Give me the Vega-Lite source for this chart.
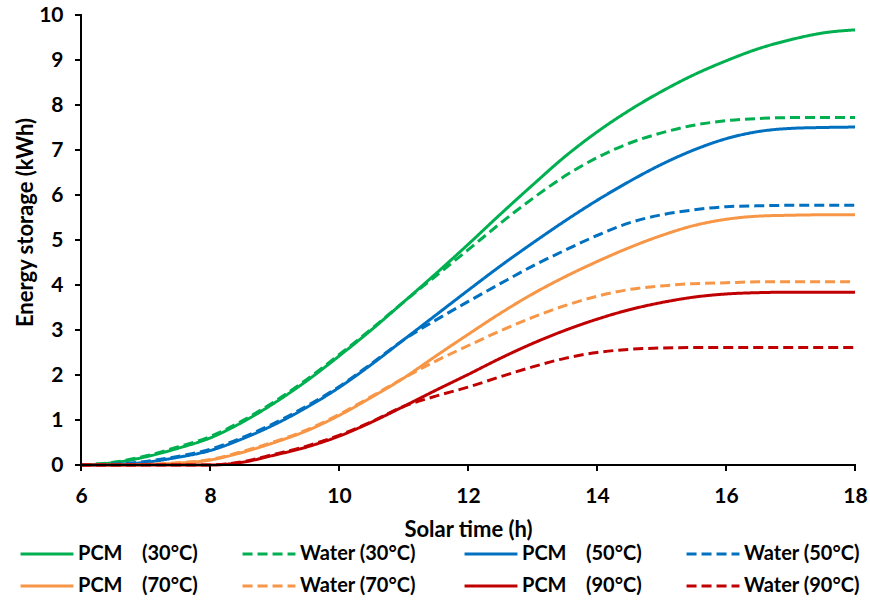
{
  "$schema": "https://vega.github.io/schema/vega-lite/v6.json",
  "width": 774,
  "height": 450,
  "autosize": {"type": "none"},
  "padding": {"left": 81, "top": 15, "right": 15, "bottom": 138},
  "background": "white",
  "config": {
    "view": {"stroke": null},
    "font": "Lato",
    "axis": {
      "grid": false, "domain": false, "ticks": false,
      "labelColor": "#000000", "labelFont": "Lato", "labelFontWeight": "bold", "labelFontSize": 21,
      "titleColor": "#000000", "titleFont": "Lato", "titleFontWeight": "bold", "titleFontSize": 22
    }
  },
  "layer": [
    {
      "data": {
        "values": [
          {"t": 6, "p30": 0, "w30": 0, "p50": 0, "w50": 0, "p70": 0, "w70": 0, "p90": 0, "w90": 0},
          {"t": 6.5, "p30": 0.05, "w30": 0.06, "p50": 0.01, "w50": 0.02, "p70": 0, "w70": 0, "p90": 0, "w90": 0},
          {"t": 7, "p30": 0.18, "w30": 0.2, "p50": 0.06, "w50": 0.08, "p70": 0.01, "w70": 0.01, "p90": 0, "w90": 0},
          {"t": 7.5, "p30": 0.37, "w30": 0.4, "p50": 0.17, "w50": 0.19, "p70": 0.04, "w70": 0.05, "p90": 0, "w90": 0},
          {"t": 8, "p30": 0.6, "w30": 0.63, "p50": 0.32, "w50": 0.35, "p70": 0.11, "w70": 0.12, "p90": 0, "w90": 0},
          {"t": 8.5, "p30": 0.95, "w30": 0.98, "p50": 0.58, "w50": 0.61, "p70": 0.28, "w70": 0.3, "p90": 0.06, "w90": 0.07},
          {"t": 9, "p30": 1.38, "w30": 1.41, "p50": 0.9, "w50": 0.93, "p70": 0.5, "w70": 0.52, "p90": 0.22, "w90": 0.24},
          {"t": 9.5, "p30": 1.87, "w30": 1.9, "p50": 1.28, "w50": 1.31, "p70": 0.76, "w70": 0.78, "p90": 0.4, "w90": 0.42},
          {"t": 10, "p30": 2.42, "w30": 2.45, "p50": 1.72, "w50": 1.74, "p70": 1.1, "w70": 1.12, "p90": 0.64, "w90": 0.66},
          {"t": 10.5, "p30": 3.0, "w30": 3.02, "p50": 2.23, "w50": 2.25, "p70": 1.5, "w70": 1.52, "p90": 0.95, "w90": 0.96},
          {"t": 11, "p30": 3.62, "w30": 3.62, "p50": 2.78, "w50": 2.78, "p70": 1.93, "w70": 1.93, "p90": 1.3, "w90": 1.3},
          {"t": 11.5, "p30": 4.25, "w30": 4.2, "p50": 3.33, "w50": 3.22, "p70": 2.42, "w70": 2.31, "p90": 1.66, "w90": 1.53},
          {"t": 12, "p30": 4.9, "w30": 4.78, "p50": 3.88, "w50": 3.63, "p70": 2.9, "w70": 2.65, "p90": 2.01, "w90": 1.73},
          {"t": 12.5, "p30": 5.57, "w30": 5.37, "p50": 4.42, "w50": 4.03, "p70": 3.37, "w70": 2.98, "p90": 2.37, "w90": 1.96},
          {"t": 13, "p30": 6.22, "w30": 5.92, "p50": 4.93, "w50": 4.42, "p70": 3.8, "w70": 3.28, "p90": 2.7, "w90": 2.18},
          {"t": 13.5, "p30": 6.85, "w30": 6.42, "p50": 5.42, "w50": 4.77, "p70": 4.18, "w70": 3.54, "p90": 2.99, "w90": 2.37},
          {"t": 14, "p30": 7.4, "w30": 6.83, "p50": 5.88, "w50": 5.1, "p70": 4.52, "w70": 3.75, "p90": 3.24, "w90": 2.5},
          {"t": 14.5, "p30": 7.88, "w30": 7.15, "p50": 6.3, "w50": 5.38, "p70": 4.83, "w70": 3.9, "p90": 3.45, "w90": 2.57},
          {"t": 15, "p30": 8.3, "w30": 7.38, "p50": 6.68, "w50": 5.56, "p70": 5.1, "w70": 3.98, "p90": 3.61, "w90": 2.6},
          {"t": 15.5, "p30": 8.67, "w30": 7.55, "p50": 7.0, "w50": 5.67, "p70": 5.32, "w70": 4.03, "p90": 3.73, "w90": 2.61},
          {"t": 16, "p30": 8.98, "w30": 7.65, "p50": 7.25, "w50": 5.74, "p70": 5.46, "w70": 4.05, "p90": 3.8, "w90": 2.61},
          {"t": 16.5, "p30": 9.25, "w30": 7.7, "p50": 7.41, "w50": 5.76, "p70": 5.53, "w70": 4.07, "p90": 3.83, "w90": 2.61},
          {"t": 17, "p30": 9.45, "w30": 7.72, "p50": 7.48, "w50": 5.77, "p70": 5.55, "w70": 4.07, "p90": 3.84, "w90": 2.61},
          {"t": 17.5, "p30": 9.6, "w30": 7.72, "p50": 7.5, "w50": 5.77, "p70": 5.56, "w70": 4.07, "p90": 3.84, "w90": 2.61},
          {"t": 18, "p30": 9.67, "w30": 7.72, "p50": 7.51, "w50": 5.77, "p70": 5.56, "w70": 4.07, "p90": 3.84, "w90": 2.61}
        ]
      },
      "transform": [
        {"fold": ["p30", "w30", "p50", "w50", "p70", "w70", "p90", "w90"], "as": ["series", "energy"]}
      ],
      "mark": {"type": "line", "strokeWidth": 3, "interpolate": "monotone"},
      "encoding": {
        "x": {
          "field": "t", "type": "quantitative",
          "scale": {"domain": [6, 18], "nice": false},
          "axis": {
            "values": [6, 8, 10, 12, 14, 16, 18], "format": "d", "labelFlush": false, "title": "Solar time (h)",
            "labelPadding": 20, "titleY": 71, "titleBaseline": "alphabetic"
          }
        },
        "y": {
          "field": "energy", "type": "quantitative",
          "scale": {"domain": [0, 10], "nice": false},
          "axis": {
            "values": [0, 1, 2, 3, 4, 5, 6, 7, 8, 9, 10], "format": "d", "title": "Energy storage (kWh)",
            "labelPadding": 18, "titleX": -49, "titleY": 207, "titleBaseline": "alphabetic"
          }
        },
        "color": {
          "field": "series", "type": "nominal",
          "scale": {
            "domain": ["p30", "w30", "p50", "w50", "p70", "w70", "p90", "w90"],
            "range": ["#00B050", "#00B050", "#0070C0", "#0070C0", "#F79646", "#F79646", "#C00000", "#C00000"]
          },
          "legend": {
            "title": null,
            "orient": "none",
            "legendX": -44,
            "legendY": 529,
            "direction": "horizontal",
            "columns": 4,
            "gridAlign": "all",
            "symbolType": "M-5,0L5,0",
            "symbolSize": 112,
            "symbolStrokeWidth": 3,
            "labelFont": "Lato",
            "labelFontWeight": "bold",
            "labelFontSize": 20,
            "labelColor": "black",
            "labelLimit": 400,
            "labelOffset": 21,
            "columnPadding": 38,
            "rowPadding": 12,
            "labelExpr": "{'p30':'PCM\u00a0\u00a0\u00a0\u00a0(30°C)','w30':'Water (30°C)','p50':'PCM\u00a0\u00a0\u00a0\u00a0(50°C)','w50':'Water (50°C)','p70':'PCM\u00a0\u00a0\u00a0\u00a0(70°C)','w70':'Water (70°C)','p90':'PCM\u00a0\u00a0\u00a0\u00a0(90°C)','w90':'Water (90°C)'}[datum.label]"
          }
        },
        "strokeDash": {
          "field": "series", "type": "nominal",
          "scale": {
            "domain": ["p30", "w30", "p50", "w50", "p70", "w70", "p90", "w90"],
            "range": [[1, 0], [10, 5], [1, 0], [10, 5], [1, 0], [10, 5], [1, 0], [10, 5]]
          }
        }
      }
    },
    {
      "data": {"values": [{}]},
      "mark": {"type": "tick", "orient": "vertical", "thickness": 2, "size": 452, "color": "#000000", "opacity": 1},
      "encoding": {
        "x": {"datum": 6, "type": "quantitative"},
        "y": {"datum": 5, "type": "quantitative"}
      }
    },
    {
      "data": {"values": [{}]},
      "mark": {"type": "tick", "orient": "horizontal", "thickness": 2, "size": 776, "color": "#000000", "opacity": 1},
      "encoding": {
        "x": {"datum": 12, "type": "quantitative"},
        "y": {"datum": 0, "type": "quantitative"}
      }
    },
    {
      "data": {"values": [{"v": 0}, {"v": 1}, {"v": 2}, {"v": 3}, {"v": 4}, {"v": 5}, {"v": 6}, {"v": 7}, {"v": 8}, {"v": 9}, {"v": 10}]},
      "mark": {"type": "tick", "orient": "horizontal", "thickness": 2, "size": 6, "xOffset": -3, "color": "#000000", "opacity": 1},
      "encoding": {
        "x": {"datum": 6, "type": "quantitative"},
        "y": {"field": "v", "type": "quantitative"}
      }
    },
    {
      "data": {"values": [{"v": 6}, {"v": 8}, {"v": 10}, {"v": 12}, {"v": 14}, {"v": 16}, {"v": 18}]},
      "mark": {"type": "tick", "orient": "vertical", "thickness": 2, "size": 6, "yOffset": 3, "color": "#000000", "opacity": 1},
      "encoding": {
        "x": {"field": "v", "type": "quantitative"},
        "y": {"datum": 0, "type": "quantitative"}
      }
    }
  ]
}
